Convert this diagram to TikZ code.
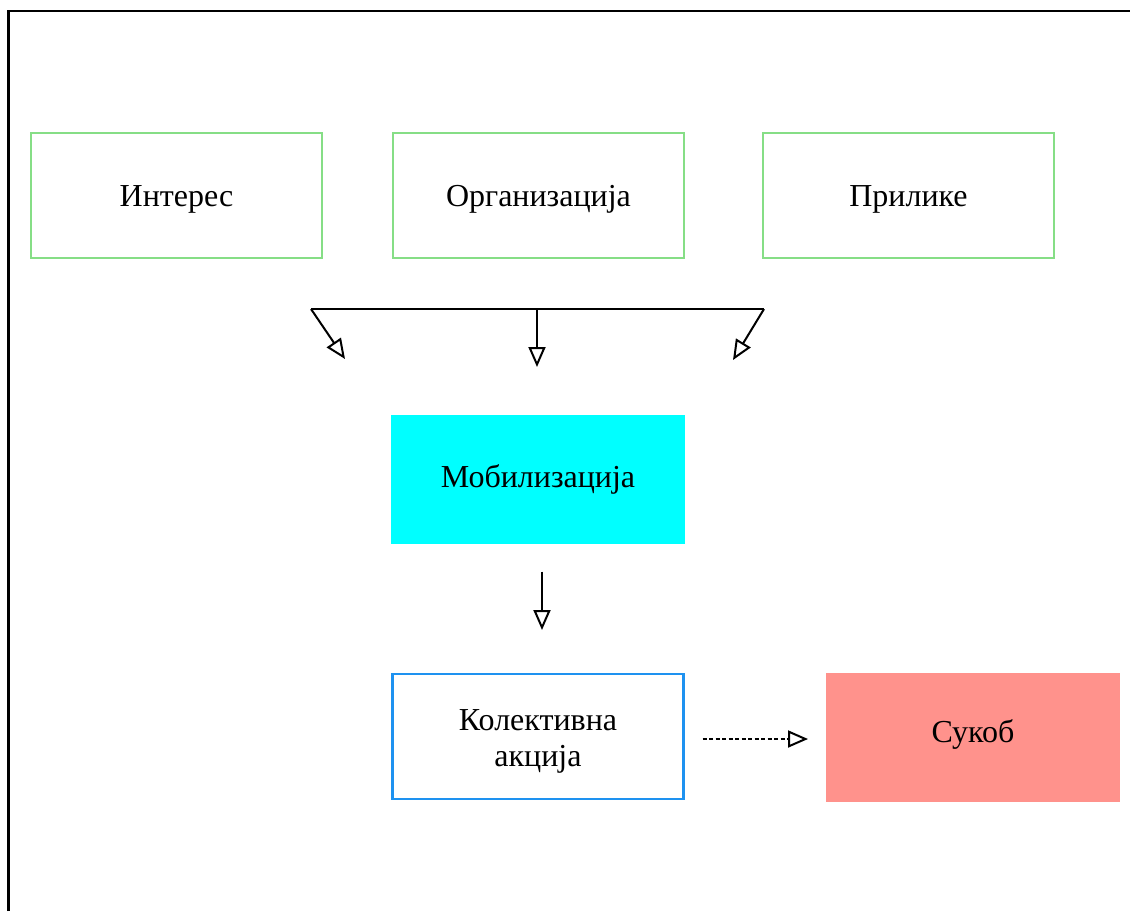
\documentclass[tikz,border=0pt]{standalone}
\usepackage{fontspec}
\setmainfont{Liberation Serif}
\usetikzlibrary{arrows.meta}
\definecolor{boxgreen}{HTML}{86DE86}
\definecolor{boxblue}{HTML}{1E92F0}
\definecolor{boxcyan}{HTML}{00FFFF}
\definecolor{boxsalmon}{HTML}{FF928C}
\begin{document}
\begin{tikzpicture}[x=1pt,y=-1pt,
  lbl/.style={font=\fontsize{32pt}{36pt}\selectfont, align=center, inner sep=0pt, text height=25pt, text depth=3pt},
  outlinebox/.style={lbl, draw=#1, line width=2.5pt, minimum width=291pt, minimum height=125pt},
  fillbox/.style={lbl, fill=#1, draw=none, minimum width=294pt, minimum height=129pt},
  conn/.style={line width=2pt, draw=black},
  headarrow/.style={conn, -{Triangle[open,length=20pt,width=17pt,line width=2pt]}},
  frame/.style={line width=2.8pt, draw=black}
]
\useasboundingbox (0,0) rectangle (1130,911);
% frame (only top and left edges visible)
\draw[frame] (8.5,911) -- (8.5,11) -- (1130,11);

\node[outlinebox=boxgreen] (int) at (176.5,195.5) {Интерес};
\node[outlinebox=boxgreen] (org) at (538.5,195.5) {Организација};
\node[outlinebox=boxgreen] (pri) at (908.5,195.5) {Прилике};

\node[fillbox=boxcyan, text height=22pt, text depth=6pt] (mob) at (538,479.5) {Мобилизација};
\node[outlinebox=boxblue, text height={}, text depth={}] (kol) at (538,736.5) {\rule{0pt}{31pt}Колективна\\акција};
\node[fillbox=boxsalmon, text height=20pt, text depth=9pt] (suk) at (973,737) {Сукоб};

% fan of arrows
\coordinate (barL) at (311,309);
\coordinate (barM) at (537,309);
\coordinate (barR) at (764,309);
\coordinate (tipL) at (345,359);
\coordinate (tipM) at (537,367);
\coordinate (tipR) at (733,360);
\draw[conn] (barL) -- (barR);
\draw[headarrow] (barL) -- (tipL);
\draw[headarrow] (barM) -- (tipM);
\draw[headarrow] (barR) -- (tipR);

% mobilisation to collective action
\coordinate (mobS) at (542,571.5);
\coordinate (kolN) at (542,630);
\draw[headarrow] (mobS) -- (kolN);

% collective action to conflict
\coordinate (kolE) at (702.5,739);
\coordinate (sukW) at (808,739);
\draw[headarrow, dash pattern=on 4pt off 2.5pt] (kolE) -- (sukW);
\end{tikzpicture}
\end{document}
